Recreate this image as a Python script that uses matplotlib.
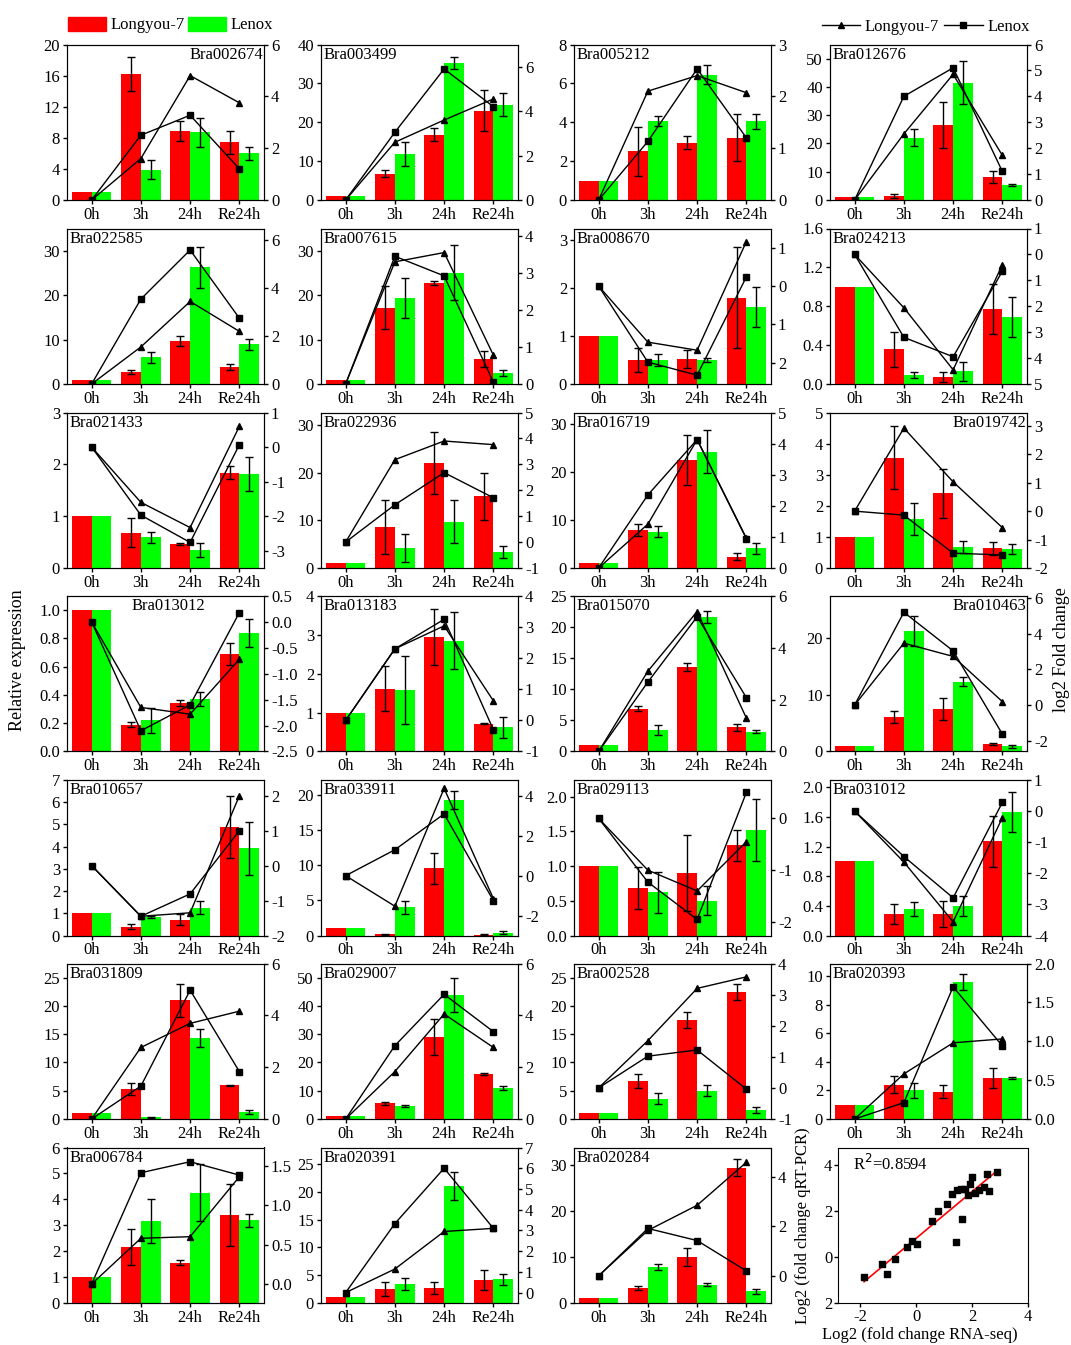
import numpy as np
import matplotlib.pyplot as plt
from matplotlib.patches import Patch
from matplotlib.lines import Line2D

plt.rcParams['font.family'] = ['Liberation Serif', 'DejaVu Serif']
plt.rcParams['font.size'] = 12

times = ['0h', '3h', '24h', 'Re24h']

genes = ['Bra002674', 'Bra003499', 'Bra005212', 'Bra012676',
         'Bra022585', 'Bra007615', 'Bra008670', 'Bra024213',
         'Bra021433', 'Bra022936', 'Bra016719', 'Bra019742',
         'Bra013012', 'Bra013183', 'Bra015070', 'Bra010463',
         'Bra010657', 'Bra033911', 'Bra029113', 'Bra031012',
         'Bra031809', 'Bra029007', 'Bra002528', 'Bra020393',
         'Bra006784', 'Bra020391', 'Bra020284']

# relative expression (qRT-PCR), Longyou-7
lg_mean = [[1, 16.2, 8.9, 7.4], [1, 6.8, 16.8, 23.0], [1, 2.5, 2.95, 3.2], [1, 1.4, 26.5, 8.1],
           [1, 2.7, 9.6, 3.8], [1, 17.2, 22.7, 5.7], [1, 0.5, 0.52, 1.8], [1, 0.36, 0.07, 0.77],
           [1, 0.68, 0.47, 1.84], [1, 8.6, 22.0, 15.0], [1, 7.9, 22.6, 2.4], [1, 3.55, 2.4, 0.63],
           [1, 0.19, 0.345, 0.69], [1, 1.62, 2.95, 0.72], [1, 6.9, 13.6, 3.9], [1, 6.1, 7.5, 1.3],
           [1, 0.4, 0.72, 4.87], [1, 0.15, 9.6, 0.1], [1, 0.68, 0.9, 1.3], [1, 0.29, 0.29, 1.27],
           [1, 5.3, 21.0, 6.0], [1, 5.5, 29.0, 15.8], [1, 6.7, 17.5, 22.4], [1, 2.4, 1.9, 2.9],
           [1, 2.15, 1.55, 3.4], [1, 2.5, 2.7, 4.2], [1, 3.3, 10.0, 29.3]]
lg_err = [[0, 2.2, 1.3, 1.5], [0, 0.8, 1.6, 5.3], [0, 1.25, 0.35, 1.2], [0, 0.8, 8.0, 2.2],
          [0, 0.5, 1.1, 0.7], [0, 4.8, 0.5, 1.8], [0, 0.24, 0.19, 1.05], [0, 0.18, 0.05, 0.26],
          [0, 0.28, 0.02, 0.13], [0, 5.6, 6.5, 5.0], [0, 1.2, 5.2, 0.8], [0, 1.0, 0.78, 0.2],
          [0, 0.02, 0.02, 0.08], [0, 0.57, 0.72, 0.02], [0, 0.4, 0.6, 0.6], [0, 1.0, 2.0, 0.2],
          [0, 0.1, 0.25, 1.4], [0, 0.05, 2.2, 0.05], [0, 0.3, 0.55, 0.22], [0, 0.13, 0.17, 0.35],
          [0, 1.0, 2.9, 0.1], [0, 0.5, 6.5, 0.3], [0, 1.2, 1.4, 1.4], [0, 0.6, 0.45, 0.7],
          [0, 0.7, 0.1, 1.2], [0, 1.2, 1.0, 1.8], [0, 0.4, 2.0, 1.8]]

# relative expression (qRT-PCR), Lenox
ln_mean = [[1, 3.9, 8.7, 6.0], [1, 11.8, 35.2, 24.5], [1, 4.05, 6.45, 4.05], [1, 22.0, 41.5, 5.2],
           [1, 6.0, 26.3, 8.9], [1, 19.3, 25.0, 2.5], [1, 0.5, 0.5, 1.6], [1, 0.09, 0.13, 0.69],
           [1, 0.59, 0.35, 1.82], [1, 4.2, 9.7, 3.3], [1, 7.6, 24.3, 4.1], [1, 1.58, 0.67, 0.62],
           [1, 0.22, 0.37, 0.84], [1, 1.58, 2.85, 0.62], [1, 3.5, 21.6, 3.2], [1, 21.3, 12.3, 0.9],
           [1, 0.85, 1.25, 3.93], [1, 4.0, 19.3, 0.4], [1, 0.62, 0.5, 1.52], [1, 0.36, 0.4, 1.67],
           [1, 0.3, 14.4, 1.2], [1, 4.5, 44.0, 11.0], [1, 3.6, 5.0, 1.6], [1, 2.0, 9.6, 2.9],
           [1, 3.15, 4.25, 3.2], [1, 3.4, 21.0, 4.3], [1, 7.8, 4.0, 2.5]]
ln_err = [[0, 1.2, 1.9, 0.8], [0, 3.0, 1.6, 3.0], [0, 0.25, 0.5, 0.4], [0, 3.0, 7.5, 0.4],
          [0, 1.2, 4.6, 1.3], [0, 4.5, 6.2, 0.6], [0, 0.13, 0.05, 0.42], [0, 0.03, 0.1, 0.21],
          [0, 0.1, 0.13, 0.33], [0, 2.9, 4.5, 1.3], [0, 1.1, 4.5, 1.1], [0, 0.52, 0.2, 0.16],
          [0, 0.09, 0.05, 0.1], [0, 0.87, 0.73, 0.27], [0, 0.8, 1.0, 0.3], [0, 2.6, 0.8, 0.2],
          [0, 0.05, 0.3, 1.2], [0, 0.9, 1.3, 0.2], [0, 0.29, 0.21, 0.45], [0, 0.09, 0.14, 0.27],
          [0, 0.1, 1.6, 0.4], [0, 0.3, 6.0, 0.7], [0, 1.0, 1.0, 0.6], [0, 0.5, 0.55, 0.07],
          [0, 0.85, 1.1, 0.25], [0, 1.1, 2.5, 1.0], [0, 0.6, 0.4, 0.5]]

# log2 fold change (RNA-seq)
lg_fc = [[0, 1.6, 4.8, 3.75], [0, 2.6, 3.6, 4.55], [0, 2.1, 2.4, 2.07], [0, 2.55, 4.85, 1.72],
         [0, 1.55, 3.45, 2.2], [0, 3.3, 3.55, 0.78], [0, -1.46, -1.67, 1.16], [0, -2.06, -4.45, -0.4],
         [0, -1.6, -2.33, 0.6], [0, 3.18, 3.9, 3.76], [0, 1.41, 4.13, 0.96], [0, 2.92, 1.03, -0.58],
         [0, -1.65, -1.78, -0.72], [0, 2.3, 3.04, 0.63], [0, 3.1, 5.4, 1.29], [0, 3.46, 2.72, 0.19],
         [0, -1.45, -1.35, 2.0], [0, -1.53, 4.38, -1.15], [0, -1.0, -1.4, -0.45], [0, -1.64, -3.56, -0.21],
         [0, 2.76, 3.69, 4.16], [0, 1.83, 4.05, 2.76], [0, 1.52, 3.2, 3.57], [0, 0.58, 0.98, 1.03],
         [0, 0.58, 0.6, 1.36], [0, 1.14, 2.95, 3.1], [0, 1.84, 2.86, 4.6]]
ln_fc = [[0, 2.5, 3.27, 1.2], [0, 3.05, 5.9, 4.2], [0, 1.13, 2.53, 1.2], [0, 4.0, 5.1, 1.1],
         [0, 3.55, 5.6, 2.75], [0, 3.45, 2.92, 0.05], [0, -1.98, -2.32, 0.24], [0, -3.2, -3.95, -0.65],
         [0, -1.97, -2.76, 0.07], [0, 1.44, 2.68, 1.71], [0, 2.35, 4.13, 0.94], [0, -0.14, -1.48, -1.54],
         [0, -2.1, -1.6, 0.18], [0, 2.3, 3.25, -0.3], [0, 2.68, 5.2, 2.08], [0, 5.19, 3.03, -1.63],
         [0, -1.45, -0.81, 1.0], [0, 1.3, 3.1, -1.25], [0, -1.23, -1.95, 0.5], [0, -1.46, -2.79, 0.28],
         [0, 1.27, 4.97, 1.83], [0, 2.83, 4.81, 3.37], [0, 1.02, 1.22, -0.04], [0, 0.21, 1.7, 0.94],
         [0, 1.41, 1.55, 1.38], [0, 3.33, 6.0, 3.1], [0, 1.92, 1.43, 0.2]]

# axis ranges and ticks: (min, max, first tick, last tick, step, decimals)
left_axis = [(0, 20, 0, 20, 4, 0), (0, 40, 0, 40, 10, 0), (0, 8, 0, 8, 2, 0), (0, 55, 0, 50, 10, 0),
             (0, 35, 0, 30, 10, 0), (0, 35, 0, 30, 10, 0), (0, 3.24, 0, 3, 1, 0), (0, 1.6, 0, 1.6, 0.4, 1),
             (0, 3, 0, 3, 1, 0), (0, 32.6, 0, 30, 10, 0), (0, 32.5, 0, 30, 10, 0), (0, 5, 0, 5, 1, 0),
             (0, 1.1, 0, 1.0, 0.2, 1), (0, 4, 0, 4, 1, 0), (0, 25, 0, 25, 5, 0), (0, 27.5, 0, 20, 10, 0),
             (0, 7, 0, 7, 1, 0), (0, 22.2, 0, 20, 5, 0), (0, 2.24, 0, 2.0, 0.5, 1), (0, 2.1, 0, 2.0, 0.4, 1),
             (0, 27.5, 0, 25, 5, 0), (0, 55, 0, 50, 10, 0), (0, 27.5, 0, 25, 5, 0), (0, 10.9, 0, 10, 2, 0),
             (0, 6, 0, 6, 1, 0), (0, 28, 0, 25, 5, 0), (0, 33.7, 0, 30, 10, 0)]
right_axis = [(0, 6, 0, 6, 2, 0), (0, 7, 0, 6, 2, 0), (0, 3, 0, 3, 1, 0), (0, 6, 0, 6, 1, 0),
              (0, 6.5, 0, 6, 2, 0), (0, 4.2, 0, 4, 1, 0), (-2.55, 1.5, -2, 1, 1, 0), (-5, 1, -5, 1, 1, 0),
              (-3.5, 1, -3, 1, 1, 0), (-1, 5, -1, 5, 1, 0), (0, 5, 0, 5, 1, 0), (-2, 3.47, -2, 3, 1, 0),
              (-2.5, 0.5, -2.5, 0.5, 0.5, 1), (-1, 4, -1, 4, 1, 0), (0, 6, 0, 6, 2, 0), (-2.6, 6.1, -2, 6, 2, 0),
              (-2, 2.45, -2, 2, 1, 0), (-3, 4.8, -2, 4, 2, 0), (-2.26, 0.74, -2, 0, 1, 0), (-4, 1, -4, 1, 1, 0),
              (0, 6, 0, 6, 2, 0), (0, 6, 0, 6, 2, 0), (-1, 4, -1, 4, 1, 0), (0, 2, 0, 2, 0.5, 1),
              (-0.24, 1.73, 0, 1.5, 0.5, 1), (-0.5, 7, 0, 7, 1, 0), (-1.1, 5.2, 0, 4, 2, 0)]

# right tick labels printed without minus sign in the original
right_label_override = {6: ['2', '1', '0', '1'], 7: ['5', '4', '3', '2', '1', '0', '1']}

# where the gene name sits: l = top left, r = top right, c = middle
label_pos = ['r', 'l', 'l', 'l', 'l', 'l', 'l', 'l', 'l', 'l', 'l', 'r', 'c', 'l', 'l', 'r',
             'l', 'l', 'l', 'l', 'l', 'l', 'l', 'l', 'l', 'l', 'l']

# correlation between RNA-seq and qRT-PCR log2 fold changes
seq_fc = [-1.86, -1.2, -1.04, -0.75, -0.32, -0.14, 0.04, 0.57, 0.8, 1.1, 1.3, 1.43, 1.45, 1.64,
          1.75, 1.85, 1.93, 2.0, 2.1, 2.25, 2.43, 2.54, 2.9, 2.6, 1.6]
pcr_fc = [-0.87, -0.3, -0.74, -0.1, 0.43, 0.7, 0.57, 1.57, 2.0, 2.3, 2.74, 0.65, 2.9, 1.65,
          2.95, 2.7, 3.17, 3.48, 2.8, 2.9, 3.04, 3.6, 3.7, 2.85, 2.95]
r2_text = 'R$^2$=0.8594'

red = '#ff0000'
green = '#00ff00'

W, H = 1071, 1345
fig = plt.figure(figsize=(W / 100, H / 100), dpi=100)

col_left = [67, 321, 574, 830]
row_top = [44.5, 228.5, 412.5, 596, 780, 963.5, 1147.5]
ax_w, ax_h = 197, 155.5


def ticklabels(start, stop, step, dec):
    vals = np.arange(start, stop + step / 2, step)
    labs = [('%.' + str(dec) + 'f') % v for v in vals]
    labs = ['0' if l in ('-0', '-0.0') and dec == 0 else l.replace('-0.0', '0.0') for l in labs]
    return vals, labs


x = np.arange(4)
for i, gene in enumerate(genes):
    r, c = divmod(i, 4)
    ax = fig.add_axes([col_left[c] / W, 1 - (row_top[r] + ax_h) / H, ax_w / W, ax_h / H])
    ax.bar(x - 0.2, lg_mean[i], 0.4, color=red, zorder=1)
    ax.bar(x + 0.2, ln_mean[i], 0.4, color=green, zorder=1)
    for xs, m, e in [(x - 0.2, lg_mean[i], lg_err[i]), (x + 0.2, ln_mean[i], ln_err[i])]:
        k = [j for j in range(4) if e[j] > 0]
        ax.errorbar(xs[k], np.array(m)[k], yerr=np.array(e)[k], fmt='none', ecolor='black',
                    elinewidth=1, capsize=3, capthick=1, zorder=2)
    lo, hi, t0, t1, st, dec = left_axis[i]
    ax.set_ylim(lo, hi)
    vals, labs = ticklabels(t0, t1, st, dec)
    ax.set_yticks(vals)
    ax.set_yticklabels(labs)
    ax.set_xlim(-0.5, 3.5)
    ax.set_xticks(x)
    ax.set_xticklabels(times)
    ax.tick_params(direction='out', length=3, width=1, pad=2)

    ax2 = ax.twinx()
    ax2.plot(x, lg_fc[i], '-^', color='black', lw=1, ms=5)
    ax2.plot(x, ln_fc[i], '-s', color='black', lw=1, ms=4.5)
    lo, hi, t0, t1, st, dec = right_axis[i]
    ax2.set_ylim(lo, hi)
    vals, labs = ticklabels(t0, t1, st, dec)
    if i in right_label_override:
        labs = right_label_override[i]
    ax2.set_yticks(vals)
    ax2.set_yticklabels(labs)
    ax2.tick_params(direction='out', length=3, width=1, pad=2)
    ax2.set_xlim(-0.5, 3.5)

    if label_pos[i] == 'r':
        ax.text(0.995, 0.985, gene, transform=ax.transAxes, ha='right', va='top')
    elif label_pos[i] == 'c':
        ax.text(0.33, 0.985, gene, transform=ax.transAxes, ha='left', va='top')
    else:
        ax.text(0.012, 0.985, gene, transform=ax.transAxes, ha='left', va='top')

# correlation panel
axs = fig.add_axes([838 / W, 1 - 1303 / H, 190 / W, 155 / H])
axs.scatter(seq_fc, pcr_fc, s=14, marker='s', color='black', zorder=3)
k, b = np.polyfit(seq_fc, pcr_fc, 1)
xl = np.array([min(seq_fc), max(seq_fc)])
axs.plot(xl, k * xl + b, color=red, lw=1.2, zorder=2)
axs.set_xlim(-2.79, 4)
axs.set_ylim(-2, 4.74)
axs.set_xticks([-2, 0, 2, 4])
axs.set_xticklabels(['-2', '0', '2', '4'])
axs.set_yticks([-2, 0, 2, 4])
axs.set_yticklabels(['2', '0', '2', '4'])
axs.tick_params(direction='out', length=3, width=1, pad=1)
axs.text(0.08, 0.96, r2_text, transform=axs.transAxes, ha='left', va='top')
axs.set_xlabel('Log2 (fold change RNA-seq)')
axs.set_ylabel('Log2 (fold change qRT-PCR)')
axs.xaxis.set_label_coords(0.43, -0.155)
axs.yaxis.set_label_coords(-0.14, 0.5)

fig.text(18 / W, 1 - 660 / H, 'Relative expression', rotation=90, ha='center', va='center', fontsize=13)
fig.text(1062 / W, 1 - 650 / H, 'log2 Fold change', rotation=90, ha='center', va='center', fontsize=13)

bar_handles = [Patch(color=red), Patch(color=green)]
fig.legend(bar_handles, ['Longyou-7', 'Lenox'], loc='center left', bbox_to_anchor=(68 / W, 1 - 25 / H),
           ncol=2, frameon=False, handlelength=2.25, handleheight=0.95, handletextpad=0.3,
           columnspacing=0.2, borderpad=0, borderaxespad=0)
line_handles = [Line2D([], [], color='black', lw=1, marker='^', ms=5),
                Line2D([], [], color='black', lw=1, marker='s', ms=4.5)]
fig.legend(line_handles, ['Longyou-7', 'Lenox'], loc='center right', bbox_to_anchor=(1030 / W, 1 - 27 / H),
           ncol=2, frameon=False, handlelength=2.3, handletextpad=0.3, columnspacing=0.3,
           borderpad=0, borderaxespad=0)

fig.savefig('out.png', dpi=100)
